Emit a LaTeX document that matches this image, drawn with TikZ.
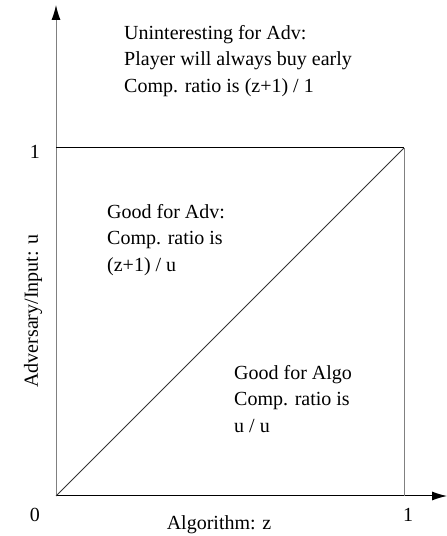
\documentclass[tikz,border=0pt]{standalone}
\usepackage{fontspec}
\setmainfont{Liberation Serif}
\usepackage{tikz}
\usetikzlibrary{arrows.meta,positioning}
\tikzset{
  axis line/.style={
    line width=1pt,
    -{Latex[length=15pt,width=9pt,color=black]}
  },
  region text/.style={
    align=left,
    anchor=north west,
    inner sep=0pt,
    font=\fontsize{20}{26.4}\selectfont
  },
  tick label/.style={
    inner sep=0pt,
    font=\fontsize{20}{24}\selectfont
  }
}

\begin{document}
\begin{tikzpicture}[x=1pt,y=1pt]
  \useasboundingbox (0,0) rectangle (447,536);

  % corners
  \coordinate (O) at (56,40);
  \coordinate (Z1) at (404,40);
  \coordinate (U1) at (56,388);
  \coordinate (C) at (404,388);
  \coordinate (Xtip) at (447,40);
  \coordinate (Ytip) at (56,531);

  % Axes
  \draw[axis line, black] (O) -- (Xtip);
  \draw[axis line, gray] (O) -- (Ytip);

  % Square and diagonal
  \draw[line width=1pt] (U1) -- (C);
  \draw[line width=1pt, gray] (Z1) -- (C);
  \draw[line width=0.8pt, black!80] (O) -- (C);

  % Tick labels
  \node[tick label] (zero) at (35,21) {0};
  \node[tick label] (one z) at (408,21) {1};
  \node[tick label] (one u) at (35,384) {1};

  % Axis labels
  \node[tick label] (xlab) at (219,11) {Algorithm: z};
  \node[tick label, rotate=90] (ylab) at (33,225) {Adversary/Input: u};

  % Regions
  \node[region text] (uninteresting) at (124,511)
    {Uninteresting for Adv:\\Player will always buy early\\Comp. ratio is (z+1) / 1};
  \node[region text] (goodadv) at (107,332)
    {Good for Adv:\\Comp. ratio is\\(z+1) / u};
  \node[region text] (goodalgo) at (234,171)
    {Good for Algo\\Comp. ratio is\\u / u};

\end{tikzpicture}
\end{document}
